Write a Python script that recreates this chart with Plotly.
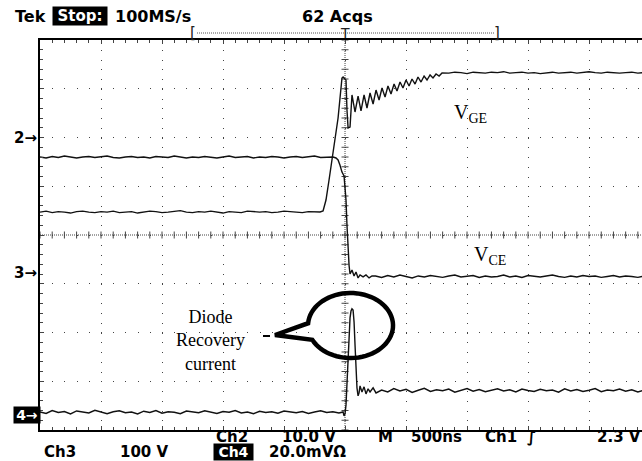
import math
import plotly.graph_objects as go

# ---------------- data (time in ns relative to trigger) ----------------
# Ch2 : V_GE in volts
vge_t = [-2500, -2450, -2400, -2350, -2300, -2250, -2200, -2150, -2100, -2050,
         -2000, -1950, -1900, -1850, -1800, -1750, -1700, -1650, -1600, -1550,
         -1500, -1450, -1400, -1350, -1300, -1250, -1200, -1150, -1100, -1050,
         -1000, -950, -900, -850, -800, -750, -700, -650, -600, -550,
         -500, -450, -400, -350, -300, -250,
         -205, -180, -156, -131, -107, -90, -74, -57, -41, -25,
         -16, 0, 8, 16, 25, 41, 49, 57, 82, 107,
         131, 156, 180, 205, 230, 254, 279, 303, 328, 352,
         377, 402, 426, 451, 475, 500, 525, 549, 574, 598,
         623, 648, 672, 697, 721, 746, 771, 795,
         850, 900, 950, 1000, 1050, 1100, 1150, 1200, 1250, 1300,
         1350, 1400, 1450, 1500, 1550, 1600, 1650, 1700, 1750, 1800,
         1850, 1900, 1950, 2000, 2050, 2100, 2150, 2200, 2250, 2300,
         2350, 2400, 2450]
vge_v = [-15.3, -15.1, -15.4, -15.2, -15.3, -15.5, -15.2, -15.1, -15.3, -15.4,
         -15.2, -15.3, -15.1, -15.4, -15.3, -15.2, -15.5, -15.3, -15.1, -15.2,
         -15.4, -15.3, -15.2, -15.0, -15.3, -15.4, -15.2, -15.3, -15.1, -15.3,
         -15.5, -15.2, -15.3, -15.4, -15.1, -15.2, -15.3, -15.2, -15.4, -15.3,
         -15.1, -15.2, -15.3, -15.4, -15.2, -15.3,
         -15.28, -15.08, -12.82, -8.72, -4.62, -2.56, 0.51, 4.0, 8.1, 12.21,
         12.41, 12.0, 11.79, 5.64, 1.95, 2.15, 5.64, 8.72, 5.23, 8.51,
         5.44, 8.72, 6.05, 9.13, 6.87, 9.74, 7.69, 10.15, 8.31, 10.56,
         8.92, 10.97, 9.54, 11.38, 10.15, 11.79, 10.56, 12.0, 10.97, 12.41,
         11.38, 12.62, 11.79, 12.82, 12.21, 13.03, 12.62, 13.23,
         13.2, 13.4, 13.3, 13.1, 13.4, 13.3, 13.2, 13.4, 13.3, 13.5,
         13.2, 13.3, 13.4, 13.2, 13.3, 13.1, 13.3, 13.4, 13.2, 13.3,
         13.4, 13.2, 13.3, 13.5, 13.3, 13.2, 13.4, 13.3, 13.2, 13.3,
         13.4, 13.2, 13.3]

# Ch3 : V_CE in volts
vce_t = [-2500, -2450, -2400, -2350, -2300, -2250, -2200, -2150, -2100, -2050,
         -2000, -1950, -1900, -1850, -1800, -1750, -1700, -1650, -1600, -1550,
         -1500, -1450, -1400, -1350, -1300, -1250, -1200, -1150, -1100, -1050,
         -1000, -950, -900, -850, -800, -750, -700, -650, -600, -550,
         -500, -450, -400, -350, -300, -250, -200, -150,
         -98, -74, -57, -41, -25, -8, 0, 8, 16, 25,
         33, 41, 57, 74, 90, 107, 123, 148, 172, 197, 221,
         250, 300, 350, 400, 450, 500, 550, 600, 650, 700,
         750, 800, 850, 900, 950, 1000, 1050, 1100, 1150, 1200,
         1250, 1300, 1350, 1400, 1450, 1500, 1550, 1600, 1650, 1700,
         1750, 1800, 1850, 1900, 1950, 2000, 2050, 2100, 2150, 2200,
         2250, 2300, 2350, 2400, 2450]
vce_v = [238, 236, 239, 237, 240, 238, 236, 238, 239, 237,
         238, 240, 237, 236, 238, 239, 237, 238, 236, 239,
         238, 237, 240, 238, 236, 238, 237, 239, 238, 236,
         238, 240, 237, 238, 239, 236, 238, 237, 239, 238,
         236, 238, 239, 237, 238, 240, 237, 238,
         238, 236, 232, 221, 207, 199, 180, 150, 98, 47,
         16, -2, 6, -6, 2, -10, -4, -8, -4, -10, -6,
         -6, -9, -5, -8, -4, -7, -10, -6, -8, -5,
         -7, -9, -6, -4, -8, -7, -5, -9, -6, -8,
         -7, -4, -8, -6, -9, -5, -7, -8, -6, -4,
         -7, -9, -6, -8, -5, -7, -6, -9, -7, -5,
         -8, -6, -7, -9, -6]

# Ch4 : diode recovery current probe in mV
id_t = [-2500, -2450, -2400, -2350, -2300, -2250, -2200, -2150, -2100, -2050,
        -2000, -1950, -1900, -1850, -1800, -1750, -1700, -1650, -1600, -1550,
        -1500, -1450, -1400, -1350, -1300, -1250, -1200, -1150, -1100, -1050,
        -1000, -950, -900, -850, -800, -750, -700, -650, -600, -550,
        -500, -450, -400, -350, -300, -250, -200, -150, -100, -50,
        -16, -8, 0, 8, 16, 25, 33, 41, 49, 57,
        66, 74, 82, 90, 98, 107, 115, 123, 139, 156,
        172, 189, 205, 230, 254,
        300, 350, 400, 450, 500, 550, 600, 650, 700, 750,
        800, 850, 900, 950, 1000, 1050, 1100, 1150, 1200, 1250,
        1300, 1350, 1400, 1450, 1500, 1550, 1600, 1650, 1700, 1750,
        1800, 1850, 1900, 1950, 2000, 2050, 2100, 2150, 2200, 2250,
        2300, 2350, 2400, 2450]
id_v = [1.2, 0.6, 1.8, 1.0, 1.4, 0.4, 1.6, 1.2, 0.8, 1.9,
        1.1, 0.5, 1.3, 1.7, 0.9, 1.2, 0.4, 1.5, 1.0, 1.8,
        0.7, 1.3, 1.1, 0.5, 1.6, 1.2, 0.9, 1.7, 1.0, 0.6,
        1.4, 1.1, 1.8, 0.8, 1.2, 0.5, 1.5, 1.0, 1.3, 0.7,
        1.6, 1.1, 0.9, 1.4, 0.6, 1.2, 1.7, 1.0, 1.3, 0.8,
        1.2, -0.4, 0.4, 4.1, 14.4, 25.8, 34.0, 39.8, 42.6, 43.5,
        43.0, 38.1, 28.7, 18.5, 11.1, 7.8, 9.0, 11.9, 9.4, 11.5,
        8.6, 10.7, 9.4, 11.1, 9.0,
        10.2, 9.4, 10.8, 9.8, 10.5, 9.2, 10.1, 10.9, 9.6, 10.3,
        9.9, 10.6, 9.3, 10.2, 10.8, 9.7, 10.4, 9.5, 10.1, 10.7,
        9.8, 10.3, 9.4, 10.6, 10.0, 9.6, 10.5, 9.9, 10.2, 9.3,
        10.7, 9.8, 10.4, 9.6, 10.1, 10.8, 9.5, 10.2, 9.9, 10.6,
        9.7, 10.3, 9.4, 10.1]

# channel settings: volts (or mV) per division and ground-marker position (div)
CH2_SCALE, CH2_POS = 10.0, 2.0
CH3_SCALE, CH3_POS = 100.0, -0.78
CH4_SCALE, CH4_POS = 20.0, -3.69

# ---------------- helpers for screen geometry ----------------
def ax_xy(px, py):
    return (px - 345) * 500 / 61, (235 - py) / 48.75

def pap(px, py):
    return (px - 40) / 602, (430 - py) / 390

GRID = "#444444"
fig = go.Figure()

# graticule centre lines
fig.add_trace(go.Scatter(x=[0, 0], y=[-4, 4], mode="lines",
                         line=dict(color=GRID, width=1, dash="1px,1px"), hoverinfo="skip"))
fig.add_trace(go.Scatter(x=[-2500, 2500], y=[0, 0], mode="lines",
                         line=dict(color=GRID, width=1, dash="1px,1px"), hoverinfo="skip"))
fig.add_trace(go.Scatter(x=[0] * 41, y=[k * 0.2 for k in range(-20, 21)], mode="markers",
                         marker=dict(symbol="line-ew", size=5, line=dict(color=GRID, width=1)),
                         hoverinfo="skip"))
fig.add_trace(go.Scatter(x=[k * 100 for k in range(-25, 25)], y=[0] * 50, mode="markers",
                         marker=dict(symbol="line-ns", size=5, line=dict(color=GRID, width=1)),
                         hoverinfo="skip"))

# waveforms
def add_wave(t, v, scale, pos):
    fig.add_trace(go.Scatter(x=t, y=[pos + val / scale for val in v], mode="lines",
                             line=dict(color="#111111", width=1.4), hoverinfo="skip"))

add_wave(vge_t, vge_v, CH2_SCALE, CH2_POS)
add_wave(vce_t, vce_v, CH3_SCALE, CH3_POS)
add_wave(id_t, id_v, CH4_SCALE, CH4_POS)

# speech bubble
cx, cy, rx, ry = 350.5, 325.5, 42.5, 32.5
pts = []
for k in range(67):
    th = math.radians(184 + k * 5)
    pts.append((cx + rx * math.cos(th), cy + ry * math.sin(th)))
pts.append((275, 335))
path = "M " + " L ".join("%.2f,%.4f" % ax_xy(x, y) for x, y in pts) + " Z"
shapes = [dict(type="path", path=path, xref="x", yref="y",
               line=dict(color="black", width=4.5), fillcolor="rgba(0,0,0,0)")]
x0, y0 = ax_xy(263, 336)
x1, y1 = ax_xy(270, 336)
shapes.append(dict(type="line", x0=x0, y0=y0, x1=x1, y1=y1, xref="x", yref="y",
                   line=dict(color="black", width=2)))
# header bracket dotted line
bx0, by = pap(197, 33)
bx1, _ = pap(494, 33)
shapes.append(dict(type="line", x0=bx0, x1=bx1, y0=by, y1=by, xref="paper", yref="paper",
                   line=dict(color="#555555", width=1, dash="1px,1px")))

SC = "DejaVu Sans"
annotations = []

def txt(text, px, py, size=16, bold=True, anchor="left", color="black", bg=None,
        family=SC, width=None):
    xp, yp = pap(px, py)
    a = dict(text=("<b>%s</b>" % text) if bold else text, x=xp, y=yp, xref="paper",
             yref="paper", xanchor=anchor, yanchor="middle", showarrow=False,
             font=dict(family=family, size=size, color=color), borderpad=0)
    if bg:
        a["bgcolor"] = bg
    if width:
        a["width"] = width
    annotations.append(a)

# header
txt("Tek", 14, 16)
txt("Stop:", 52, 16, size=15, color="white", bg="black", width=54)
txt("100MS/s", 114, 16)
txt("62 Acqs", 301, 16)
txt("[", 193, 33, size=15, bold=False, anchor="center", color="#222222")
txt("]", 497, 33, size=15, bold=False, anchor="center", color="#222222")
txt("T", 345, 33, size=14, bold=False, anchor="center", color="#222222")

# footer
txt("Ch2", 215, 437, size=15)
txt("10.0 V", 281, 437, size=15)
txt("M", 377, 437, size=15)
txt("500ns", 410, 437, size=15)
txt("Ch1", 484, 437, size=15)
txt("\u222B", 531, 437, size=15, anchor="center")
txt("2.3 V", 596, 437, size=15)
txt("Ch3", 43, 452, size=15)
txt("100 V", 119, 452, size=15)
txt("Ch4", 213, 452, size=14, color="white", bg="black", width=39)
txt("20.0mV\u03A9", 268, 452, size=15)

# channel markers
txt("2\u2192", 38, 138, size=15, anchor="right")
txt("3\u2192", 38, 273, size=15, anchor="right")
txt("4\u2192", 13, 415, size=14, color="white", bg="black", width=26)

# waveform labels
SERIF = "Liberation Serif"
txt("V<sub>GE</sub>", 453, 113, size=20, bold=False, family=SERIF)
txt("V<sub>CE</sub>", 473, 255, size=20, bold=False, family=SERIF)
txt("Diode<br>Recovery<br>current", 211, 340, size=18, bold=False, family=SERIF,
    anchor="center")

fig.update_layout(
    width=642, height=461,
    margin=dict(l=40, r=0, t=40, b=31, pad=0),
    paper_bgcolor="white", plot_bgcolor="white",
    showlegend=False,
    shapes=shapes, annotations=annotations,
    xaxis=dict(range=[-2500, 2434], showticklabels=False, zeroline=False,
               showgrid=True, gridcolor=GRID, gridwidth=1, griddash="1px,8.75px",
               tick0=0, dtick=500, ticks="inside", ticklen=4, tickcolor=GRID,
               minor=dict(tick0=0, dtick=100, ticks="inside", ticklen=3, tickcolor=GRID),
               showline=True, linecolor="black", linewidth=1.5, mirror="ticks"),
    yaxis=dict(range=[-4, 4], showticklabels=False, zeroline=False,
               showgrid=True, gridcolor=GRID, gridwidth=1, griddash="1px,11.2px",
               tick0=0, dtick=1, ticks="inside", ticklen=4, tickcolor=GRID,
               minor=dict(tick0=0, dtick=0.2, ticks="inside", ticklen=3, tickcolor=GRID),
               showline=True, linecolor="black", linewidth=2, mirror=False),
)

fig.write_html("out.html", config={"displayModeBar": False},
               post_script="document.body.style.margin='0';document.body.style.overflow='hidden';")
